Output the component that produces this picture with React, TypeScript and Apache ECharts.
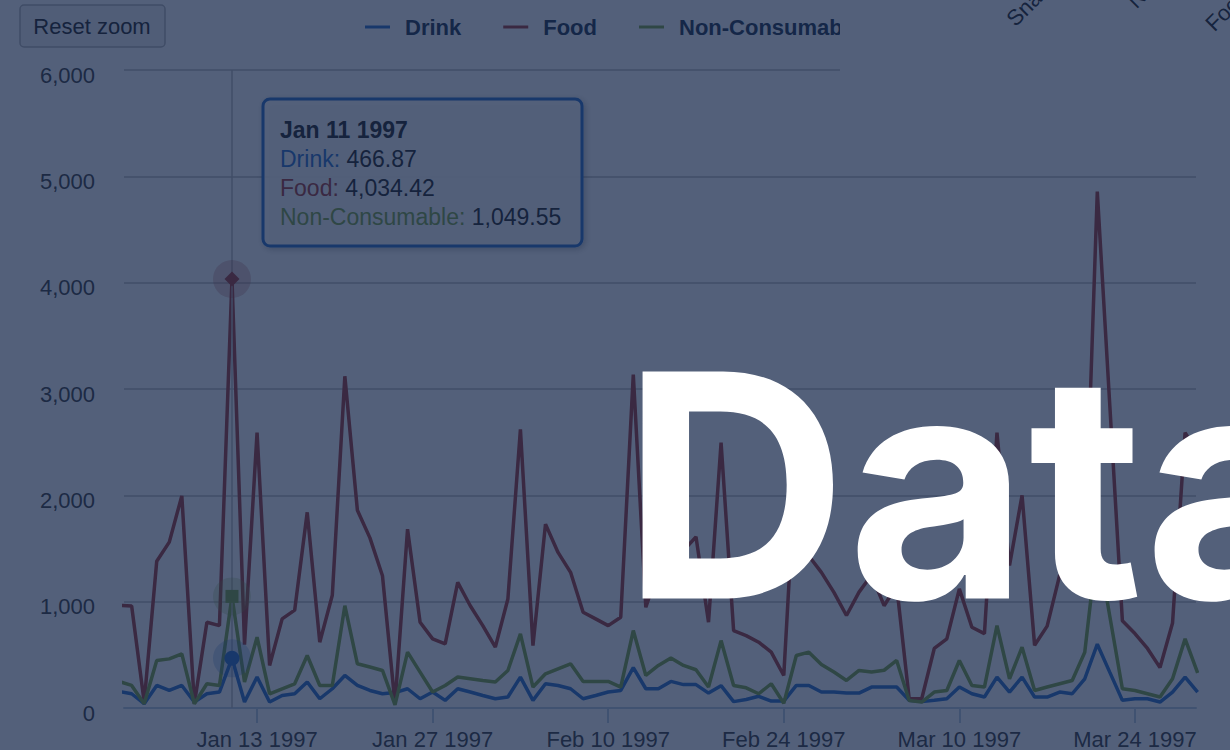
import React, { useEffect, useRef } from "react";
import * as echarts from "echarts";

// Day-of-year of the first value (Jan 2 1997 = 2)
const START_DAY = 2;

const drink = [
  155, 134, 40, 212, 165, 212, 56, 134, 150, 466.87, 56, 291, 56, 118, 134, 244, 87, 181, 306, 212,
  165, 134, 145, 181, 87, 150, 72, 181, 150, 118, 87, 103, 291, 72, 228, 212, 181, 87, 118, 150,
  165, 380, 181, 181, 250, 220, 220, 140, 210, 60, 80, 110, 65, 65, 212, 212, 150, 150, 140, 140,
  197, 197, 197, 72, 60, 72, 87, 197, 134, 103, 291, 150, 291, 103, 103, 150, 134, 275, 600, 335,
  72, 87, 87, 56, 150, 291, 150,
];

const food = [
  965, 960, 56, 1380, 1560, 1995, 40, 807, 775, 4034.42, 595, 2590, 400, 838, 920, 1840, 619, 1060, 3120, 1860,
  1600, 1244, 40, 1682, 807, 650, 603, 1182, 962, 775, 572, 1025, 2620, 587, 1729, 1463, 1276, 900, 838, 775,
  854, 3136, 947, 1300, 1150, 1480, 1610, 807, 2495, 728, 681, 619, 525, 306, 2400, 1430, 1276, 1088, 870, 1090,
  1250, 962, 1150, 87, 87, 560, 650, 1120, 760, 700, 2590, 1340, 2000, 590, 770, 1250, 1200, 1400, 4856, 2840,
  820, 700, 560, 380, 800, 2590, 2400,
];

const nonConsumable = [
  250, 212, 40, 447, 462, 509, 40, 228, 212, 1049.55, 244, 666, 134, 181, 228, 494, 212, 212, 962, 416,
  385, 353, 30, 525, 338, 150, 212, 291, 275, 259, 244, 353, 697, 197, 322, 369, 416, 250, 250, 250,
  197, 728, 306, 400, 470, 400, 360, 197, 634, 212, 190, 134, 228, 45, 494, 525, 410, 338, 259, 353,
  338, 355, 447, 70, 56, 150, 165, 447, 212, 197, 775, 275, 572, 165, 197, 228, 259, 525, 1550, 860,
  181, 165, 134, 103, 275, 650, 330,
];

const seriesNames = ["Drink", "Food", "Non-Consumable"];
const seriesColors = ["#3a78cc", "#AA4643", "#86aa4e"];
const markerSymbols = ["circle", "diamond", "rect"];

const xTickDays = [13, 27, 41, 55, 69, 83];
const xTickLabels = ["Jan 13 1997", "Jan 27 1997", "Feb 10 1997", "Feb 24 1997", "Mar 10 1997", "Mar 24 1997"];
const xMin = 2.39;
const xMax = 87.87;

const hoverDay = 11;
const hoverTitle = "Jan 11 1997";

const otherChartLabels = ["Snacks", "Non-Consumable", "Food"];

const FONT = "'Liberation Sans', Arial, sans-serif";

export default function App() {
  const ref = useRef<HTMLDivElement>(null);

  useEffect(() => {
    if (!ref.current) return;
    const chart = echarts.init(ref.current, undefined, { renderer: "svg" });
    const all = [drink, food, nonConsumable];
    const hi = hoverDay - START_DAY;
    const fmt = (v: number) =>
      v.toLocaleString("en-US", { minimumFractionDigits: 2, maximumFractionDigits: 2 });

    const series: any[] = all.map((vals, si) => ({
      name: seriesNames[si],
      type: "line",
      data: vals.map((v, i) => [START_DAY + i, v]),
      showSymbol: false,
      silent: true,
      clip: true,
      z: 2 + si,
      lineStyle: { width: 3.5, color: seriesColors[si] },
      itemStyle: { color: seriesColors[si] },
      emphasis: { disabled: true },
      markPoint: {
        silent: true,
        animation: false,
        label: { show: false },
        data: [
          {
            coord: [hoverDay, vals[hi]],
            symbol: "circle",
            symbolSize: 38,
            itemStyle: { color: seriesColors[si], opacity: 0.25 },
          },
          {
            coord: [hoverDay, vals[hi]],
            symbol: markerSymbols[si],
            symbolSize: si === 2 ? 13 : 15,
            itemStyle: { color: seriesColors[si] },
          },
        ],
      },
      ...(si === 0
        ? {
            markLine: {
              silent: true,
              animation: false,
              symbol: "none",
              label: { show: false },
              lineStyle: { color: "#C0C0C0", width: 1.5, type: "solid" },
              data: [{ xAxis: hoverDay }],
            },
          }
        : {}),
    }));

    const tipLines = all.map((vals, si) => ({
      type: "text",
      x: 280,
      y: 159 + si * 29,
      z: 61,
      style: {
        text: `{n|${seriesNames[si]}:} {v|${fmt(vals[hi])}}`,
        textVerticalAlign: "middle",
        font: `23px ${FONT}`,
        rich: {
          n: { fill: seriesColors[si], fontSize: 23, fontFamily: FONT },
          v: { fill: "#333333", fontSize: 23, fontFamily: FONT },
        },
      },
    }));

    const otherPos = [
      [1018, 30],
      [1139, 12],
      [1217, 35],
    ];

    chart.setOption({
      animation: false,
      backgroundColor: "#ffffff",
      textStyle: { fontFamily: FONT },
      grid: { left: 124, right: 34, top: 70, bottom: 41, containLabel: false },
      legend: {
        left: 360,
        top: 11,
        icon: "rect",
        itemWidth: 25,
        itemHeight: 3,
        itemGap: 42,
        selectedMode: false,
        data: seriesNames,
        textStyle: {
          fontSize: 22,
          fontWeight: "bold",
          color: "#2f4257",
          fontFamily: FONT,
          padding: [0, 0, 0, 10],
        },
      },
      xAxis: {
        type: "value",
        min: xMin,
        max: xMax,
        splitLine: { show: false },
        axisLine: { show: true, lineStyle: { color: "#C0D0E0", width: 2 } },
        axisTick: {
          show: true,
          customValues: xTickDays,
          length: 15,
          lineStyle: { color: "#C0D0E0", width: 2 },
        },
        axisLabel: {
          customValues: xTickDays,
          margin: 20,
          fontSize: 22,
          color: "#4a4a4a",
          fontFamily: FONT,
          formatter: (v: number) => {
            const k = xTickDays.indexOf(Math.round(v));
            return k >= 0 ? xTickLabels[k] : "";
          },
        },
      },
      yAxis: {
        type: "value",
        min: 0,
        max: 6000,
        interval: 1000,
        axisLine: { show: false },
        axisTick: { show: false },
        splitLine: { lineStyle: { color: "#D0D0D0", width: 2 } },
        axisLabel: {
          margin: 29,
          fontSize: 22,
          color: "#4a4a4a",
          fontFamily: FONT,
          verticalAlign: "top",
          lineHeight: 10,
          formatter: (v: number) => v.toLocaleString("en-US"),
        },
      },
      series,
      graphic: [
        // reset zoom button
        {
          type: "rect",
          z: 40,
          shape: { x: 20, y: 5, width: 145, height: 42, r: 4 },
          style: { fill: "#f3f3f3", stroke: "#bcbcbc", lineWidth: 1.5 },
        },
        {
          type: "text",
          z: 41,
          x: 92,
          y: 26,
          style: {
            text: "Reset zoom",
            font: `22px ${FONT}`,
            fill: "#333333",
            textAlign: "center",
            textVerticalAlign: "middle",
          },
        },
        // neighbouring panel covering the top right corner
        {
          type: "rect",
          z: 45,
          shape: { x: 840, y: 0, width: 390, height: 100 },
          style: { fill: "#ffffff" },
        },
        ...otherChartLabels.map((t, i) => ({
          type: "text",
          z: 46,
          x: otherPos[i][0],
          y: otherPos[i][1],
          rotation: Math.PI / 4,
          style: {
            text: t,
            font: `22px ${FONT}`,
            fill: "#333333",
            textAlign: "left",
            textVerticalAlign: "bottom",
          },
        })),
        // tooltip
        {
          type: "rect",
          z: 60,
          shape: { x: 263, y: 99, width: 319, height: 147, r: 7 },
          style: {
            fill: "rgba(255,255,255,0.9)",
            stroke: seriesColors[0],
            lineWidth: 3,
            shadowBlur: 6,
            shadowOffsetX: 2,
            shadowOffsetY: 2,
            shadowColor: "rgba(0,0,0,0.25)",
          },
        },
        {
          type: "text",
          z: 61,
          x: 280,
          y: 130,
          style: {
            text: hoverTitle,
            font: `bold 23px ${FONT}`,
            fill: "#333333",
            textVerticalAlign: "middle",
          },
        },
        ...tipLines,
        // dark overlay
        {
          type: "rect",
          z: 100,
          shape: { x: 0, y: 0, width: 1230, height: 750 },
          style: { fill: "rgba(10,28,66,0.7)" },
        },
        // big title
        {
          type: "text",
          z: 110,
          x: 622,
          y: 485,
          style: {
            text: "Data",
            fontSize: 312,
            fontWeight: 700,
            fontFamily: "Inter, 'Noto Sans', sans-serif",
            fill: "#ffffff",
            textAlign: "left",
            textVerticalAlign: "middle",
          },
        },
      ],
    });

    return () => chart.dispose();
  }, []);

  return (
    <div
      ref={ref}
      style={{ position: "fixed", left: 0, top: 0, width: 1230, height: 750 }}
    />
  );
}
